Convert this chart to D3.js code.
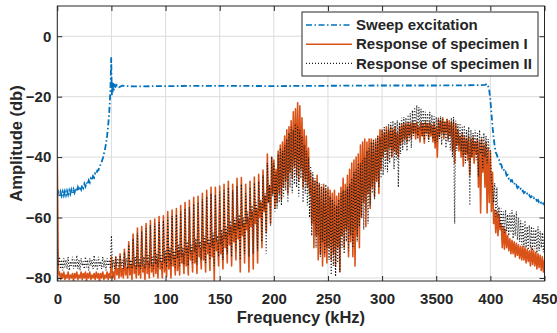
<!DOCTYPE html>
<html>
<head>
<meta charset="utf-8">
<script src="https://cdn.jsdelivr.net/npm/d3@7"></script>
<style>
  body { margin: 0; background: #fff; }
  text { font-family: "Liberation Sans", Arial, sans-serif; font-weight: bold; fill: #262626; }
</style>
</head>
<body>
<div id="chart"></div>
<script>
const width = 557, height = 333;

const xTicks = [0, 50, 100, 150, 200, 250, 300, 350, 400, 450];
const xTickLabels = ["0", "50", "100", "150", "200", "250", "300", "3500", "400", "450"];
const yTicks = [0, -20, -40, -60, -80];
const seriesNames = ["Sweep excitation", "Response of specimen I", "Response of specimen II"];

// sweep excitation, frequency (kHz) / amplitude (db)
const sweepF = [0,1,2,3,4,5,6,7,8,9,10,11,12,13,14,15,16,17,18,19,20,21,22,23,24,25,26,27,28,29,
  30,31,32,33,34,35,36,37,38,39,40,41,42,43,44,45,46,47,48,48.5,49,49.5,49.8,50.1,50.4,50.8,51.2,51.6,52.2,53,54,55,57,60,
  70,100,150,200,250,300,350,390,395,397,398,399,400,401,402,403,404,
  405,406,407,408,409,410,411,412,413,414,415,416,417,418,419,420,421,422,423,424,425,426,427,428,429,
  430,431,432,433,434,435,436,437,438,439,440,441,442,443,444,445,446,447,448,449,450];
const sweepDb = [-53,-51.6,-52.9,-51.5,-52.8,-51.4,-52.7,-51.3,-52.6,-51.2,-52.4,-51,-52.2,-50.8,-52,-50.6,-51.7,-50.3,-51.4,-50,
  -51.1,-49.7,-50.7,-49.3,-50.2,-48.8,-49.7,-48.3,-49.1,-47.7,-48.4,-47.1,-47.7,-46.3,-46.8,-45.4,-45.7,-44.4,-44.4,-43,
  -42.5,-41.5,-40.5,-39,-37.5,-35.5,-33,-29.5,-25,-22,-18,-12,-7,-14,-19.5,-15,-18.5,-15.5,-17.8,-15.8,-17.2,-16.2,-16.9,-16.4,
  -16.6,-16.5,-16.4,-16.5,-16.4,-16.3,-16.3,-16.2,-16.1,-15.8,-16.6,-18,-21,-25.5,-30,-33.5,-36.5,
  -38.5,-39.2,-40.6,-40.9,-42.3,-42.4,-43.7,-43.6,-45,-44.8,-46.1,-45.9,-47.1,-46.8,-48,-47.7,-48.8,-48.5,-49.5,-49.2,
  -50.2,-49.9,-50.8,-50.5,-51.4,-51.1,-51.9,-51.6,-52.4,-52.1,-52.9,-52.6,-53.3,-53,-53.7,-53.4,-54.1,-53.8,-54.5,-54.2,
  -54.9,-54.5,-55.2,-54.8,-55.5,-55.1];

// response of specimen I, one value per kHz from 0 to 450
const resp1 = [
  -41,-79,-78,-80.5,-78.5,-80,-78,-80.5,-79,-80,
  -78,-80.5,-79,-80,-78.5,-81,-78.5,-80,-78,-80.5,
  -79,-80,-78,-80.5,-78.5,-80,-78,-81,-78.5,-80,
  -78,-80.5,-79,-80,-78.5,-80.5,-78,-80,-78.5,-81,
  -78.5,-80,-78,-80.5,-79,-80,-78,-80.5,-78.5,-80,
  -73,-80,-78,-80.5,-73,-79,-77,-80,-72,-79.5,
  -77,-80,-70.5,-79,-76.5,-80,-68,-79,-76,-80.5,
  -65.5,-78.5,-76,-80,-63.5,-79,-75.5,-80,-63,-78,
  -76,-80.5,-62,-78.5,-75,-80,-61,-78,-75.5,-79.5,
  -60.5,-78.5,-74,-80,-59.7,-77,-75,-80,-59.4,-78,
  -73,-79.5,-58,-77,-72,-80,-57.5,-76,-73,-79,
  -57,-77.5,-71,-79,-56,-75,-72,-78.5,-55,-76,
  -70,-79,-54.3,-74,-71,-78,-53.3,-75,-69,-78.5,
  -53,-73,-70,-77,-52,-74,-68,-78,-51,-72,
  -69,-77.5,-50,-73,-67,-81,-50,-71,-68,-76,
  -49.6,-72,-66,-77,-49,-70,-65,-75,-48,-69,
  -63,-76,-49,-68,-62,-74,-47,-67,-61,-78,
  -46.8,-66,-62,-75,-49,-64,-60,-78,-48,-63,
  -58,-77,-46.6,-62,-57,-75,-45.7,-60,-55,-70,
  -44.3,-58,-53,-65,-39,-55,-50,-62,-40,-52,
  -41,-57,-44,-55,-38,-52,-36,-54,-35,-50,
  -33,-48,-31,-52,-30,-45,-28,-47,-25,-43,
  -24,-46,-22,-48,-23,-44,-27,-50,-31,-48,
  -33,-50,-37,-52,-45,-62,-47,-70,-48,-66,
  -46,-74,-49,-72,-50,-76,-49,-73,-51,-75,
  -50,-70,-51,-74,-52,-72,-51,-76,-53,-70,
  -52,-78,-50,-66,-47,-70,-49,-64,-46,-73,
  -44,-68,-42,-73,-41,-76,-40,-66,-39,-70,
  -36,-60,-35,-55,-34,-63,-35,-52,-34,-57,
  -34,-50,-35,-53,-34,-48,-33,-52,-31,-44,
  -31,-40,-32,-38,-30,-41,-31,-37,-30,-40,
  -31,-38,-30,-39,-32,-40,-30,-36,-29,-35,
  -28.8,-34,-29,-35,-28.5,-33,-29,-34,-28.3,-32,
  -29,-34,-28.5,-33,-30,-35,-28.5,-33,-29,-35.4,
  -28.3,-32,-29,-34,-28.5,-33,-29.5,-35,-28.5,-37,
  -30,-40,-27.5,-33,-28,-32,-27,-34,-28.5,-32,
  -27.5,-34,-28,-33,-28.5,-38,-28.3,-42,-29,-36,
  -31,-38,-33,-40,-32,-43,-33,-39,-34,-41,
  -33,-46,-34,-40,-33.5,-42,-35,-39,-34,-50,
  -35,-58.5,-34,-45,-36,-50,-35,-58.5,-37,-55,
  -38,-58,-45,-62,-57.5,-65,-58,-66,-59,-64,
  -62,-70,-63,-70.5,-64,-70,-66,-71,-67,-72,
  -67.5,-72,-68,-73,-68.5,-72.5,-69,-73.5,-69.5,-74,
  -69.5,-74,-70,-75,-70.5,-74.5,-71,-76,-70,-75.5,
  -71,-76,-71.5,-77,-72,-76.5,-72.5,-77.5,-73,-78,
  -74];

// response of specimen II, one value per kHz from 0 to 450
const resp2 = [
  -70.5,-76,-73,-77,-74,-77.5,-73.5,-76.5,-74,-77,
  -73,-77.5,-74.5,-76,-73,-77,-74,-76.5,-72.5,-77,
  -74,-77.5,-73.5,-76,-74.5,-77,-73,-76.5,-74,-77.5,
  -73.5,-76,-74,-77,-72.5,-76.5,-74,-77.5,-73,-76,
  -74.5,-77,-73,-76.5,-74,-77.5,-73.5,-76,-74,-77,
  -66,-76.5,-74,-77,-73,-76,-73.5,-77,-72.5,-76,
  -74,-77,-71.5,-76,-73.5,-77,-69,-76.5,-74,-77,
  -67,-76,-73,-77,-65,-76.5,-73.5,-77,-64.5,-76,
  -73,-77,-63.5,-75.5,-72.5,-76.5,-62.5,-76,-73,-77,
  -62,-75.5,-72,-76.5,-61.5,-75,-72.5,-77,-61,-75,
  -71,-76.5,-60,-74.5,-70,-76,-59.5,-74,-71,-76.5,
  -59,-73.5,-69,-76,-58,-73,-70,-75.5,-57,-72.5,
  -68,-76,-56.5,-72,-69,-75,-55.5,-71.5,-67,-75.5,
  -55,-70,-68,-74,-54,-71,-66,-75,-53,-69,
  -67,-74,-52,-70,-65,-76,-52.5,-68,-66,-73,
  -51.5,-69,-64,-74,-51,-67,-63,-72,-50,-66,
  -61,-73,-51,-65,-60,-71,-49.5,-64,-59,-74,
  -49,-63,-60,-72,-52,-62,-58,-73,-50,-61,
  -56,-72,-48.5,-60,-55,-71,-48,-58,-54,-68,
  -46,-57,-52,-72,-42,-55,-49,-63,-40,-53,
  -42,-58,-45,-57,-39,-55,-37,-56,-38,-53,
  -36,-51,-34,-55,-32,-50,-30,-52,-31,-49,
  -29,-50,-30,-53,-31,-47,-33,-55,-36,-52,
  -38,-56,-40,-60,-43,-66,-45,-62,-47,-70,
  -48,-66,-48.5,-73,-49,-68,-50,-72,-49,-70,
  -51,-74,-53,-79,-54,-76,-55,-79.5,-56,-75,
  -54,-78,-52,-70,-51,-72,-51,-68,-50,-71,
  -49,-66,-47,-70,-45,-64,-44,-68,-42,-63,
  -42,-60,-41,-64,-40,-58,-38,-62,-37,-56,
  -35,-52,-34,-54,-35,-48,-33,-50,-33.5,-47,
  -31,-46,-30,-44,-31,-45,-29,-42,-28.5,-40,
  -28,-44,-28.5,-41,-27.8,-50,-28.5,-39,-27,-37.7,
  -26.7,-36,-27,-38,-26,-35,-25.5,-37,-24.5,-33,
  -23.5,-32,-22.8,-34,-23.5,-31,-24,-33,-24.5,-34.4,
  -25,-33,-25.5,-35,-25,-32,-26,-34,-26.5,-35.4,
  -26.7,-35,-27,-34,-26.5,-36,-27.5,-33,-28,-37,
  -27.5,-35,-28.8,-37.7,-27,-40,-26.7,-62,-28,-38,
  -29,-36,-28.8,-38,-30,-40,-29.5,-42,-31,-39,
  -30,-56,-31,-40,-32,-38,-31,-41,-32,-46.5,
  -31,-39,-33,-44,-32,-40,-33,-42,-34,-37.7,
  -38,-48,-50,-55,-48.6,-59.7,-50,-60,-56.5,-63,
  -57,-64,-58,-65,-57.5,-64.5,-59,-66,-58.5,-65,
  -57.5,-67,-59,-66,-58,-67.4,-60,-68,-61,-69,
  -62,-69.7,-61,-70,-63,-70.7,-62.5,-70,-63,-71,
  -63.5,-70.5,-64,-71.7,-63,-71,-64.5,-70,-65,-71.5,
  -64];

const colors = ["#0072BD", "#D95319", "#1a1a1a"];

const x = d3.scaleLinear().domain([0, 450]).range([57.3, 544.5]);
const y = d3.scaleLinear().domain([-81, 10]).range([281, 6]);

const svg = d3.select("#chart").append("svg")
  .attr("width", width).attr("height", height);

svg.append("defs").append("clipPath").attr("id", "plot")
  .append("rect")
  .attr("x", x(0)).attr("y", y(10))
  .attr("width", x(450) - x(0)).attr("height", y(-81) - y(10));

// grid
const grid = svg.append("g").attr("stroke", "#dcdcdc").attr("stroke-width", 1);
grid.selectAll("line.gx").data(xTicks).enter().append("line")
  .attr("x1", d => x(d)).attr("x2", d => x(d))
  .attr("y1", y(10)).attr("y2", y(-81));
grid.selectAll("line.gy").data(yTicks).enter().append("line")
  .attr("y1", d => y(d)).attr("y2", d => y(d))
  .attr("x1", x(0)).attr("x2", x(450));

const plot = svg.append("g").attr("clip-path", "url(#plot)");

const sweepLine = d3.line().x(d => x(d[0])).y(d => y(d[1]));
const respLine = d3.line().x((d, i) => x(i)).y(d => y(d));

plot.append("path")
  .datum(d3.zip(sweepF, sweepDb))
  .attr("d", sweepLine)
  .attr("fill", "none")
  .attr("stroke", colors[0])
  .attr("stroke-width", 1.8)
  .attr("stroke-dasharray", "6,2.5,1.5,2.5");

plot.append("path")
  .datum(resp1)
  .attr("d", respLine)
  .attr("fill", "none")
  .attr("stroke", colors[1])
  .attr("stroke-width", 1.6)
  .attr("stroke-linejoin", "round");

plot.append("path")
  .datum(resp2)
  .attr("d", respLine)
  .attr("fill", "none")
  .attr("stroke", colors[2])
  .attr("stroke-width", 1.2)
  .attr("stroke-dasharray", "1,2");

// frame
svg.append("rect")
  .attr("x", x(0)).attr("y", y(10))
  .attr("width", x(450) - x(0)).attr("height", y(-81) - y(10))
  .attr("fill", "none").attr("stroke", "#262626").attr("stroke-width", 1);

// axes
svg.append("g")
  .attr("transform", `translate(0,${y(-81)})`)
  .call(d3.axisBottom(x).tickValues(xTicks).tickFormat((d, i) => xTickLabels[i])
    .tickSize(-5).tickPadding(12));
svg.append("g")
  .attr("transform", `translate(0,${y(10)})`)
  .call(d3.axisTop(x).tickValues(xTicks).tickFormat("").tickSize(-5));
svg.append("g")
  .attr("transform", `translate(${x(0)},0)`)
  .call(d3.axisLeft(y).tickValues(yTicks).tickSize(-5).tickPadding(6));
svg.append("g")
  .attr("transform", `translate(${x(450)},0)`)
  .call(d3.axisRight(y).tickValues(yTicks).tickFormat("").tickSize(-5));

svg.selectAll(".domain").remove();
svg.selectAll(".tick line").attr("stroke", "#262626");
svg.selectAll(".tick text")
  .attr("font-family", "'Liberation Sans', Arial, sans-serif")
  .attr("font-weight", "bold")
  .attr("font-size", 15)
  .attr("fill", "#262626");

// axis labels
svg.append("text")
  .attr("x", (x(0) + x(450)) / 2).attr("y", 323)
  .attr("text-anchor", "middle")
  .attr("font-size", 16.5)
  .text("Frequency (kHz)");

svg.append("text")
  .attr("transform", `translate(22,${(y(10) + y(-81)) / 2}) rotate(-90)`)
  .attr("text-anchor", "middle")
  .attr("font-size", 16.5)
  .text("Amplitude (db)");

// legend
const legend = svg.append("g");
legend.append("rect")
  .attr("x", 302).attr("y", 12).attr("width", 236).attr("height", 64)
  .attr("fill", "#fff").attr("stroke", "#262626").attr("stroke-width", 1);

const dashes = ["6,2.5,1.5,2.5", null, "1,2"];
const widths = [1.5, 1.6, 1.2];
const rows = legend.selectAll("g.row").data(seriesNames).enter().append("g")
  .attr("transform", (d, i) => `translate(0,${25 + i * 19.2})`);
rows.append("line")
  .attr("x1", 306).attr("x2", 352).attr("y1", 0).attr("y2", 0)
  .attr("stroke", (d, i) => colors[i])
  .attr("stroke-width", (d, i) => widths[i])
  .attr("stroke-dasharray", (d, i) => dashes[i]);
rows.append("text")
  .attr("x", 356).attr("y", 0).attr("dy", "0.35em")
  .attr("font-size", 15)
  .text(d => d);
</script>
</body>
</html>
